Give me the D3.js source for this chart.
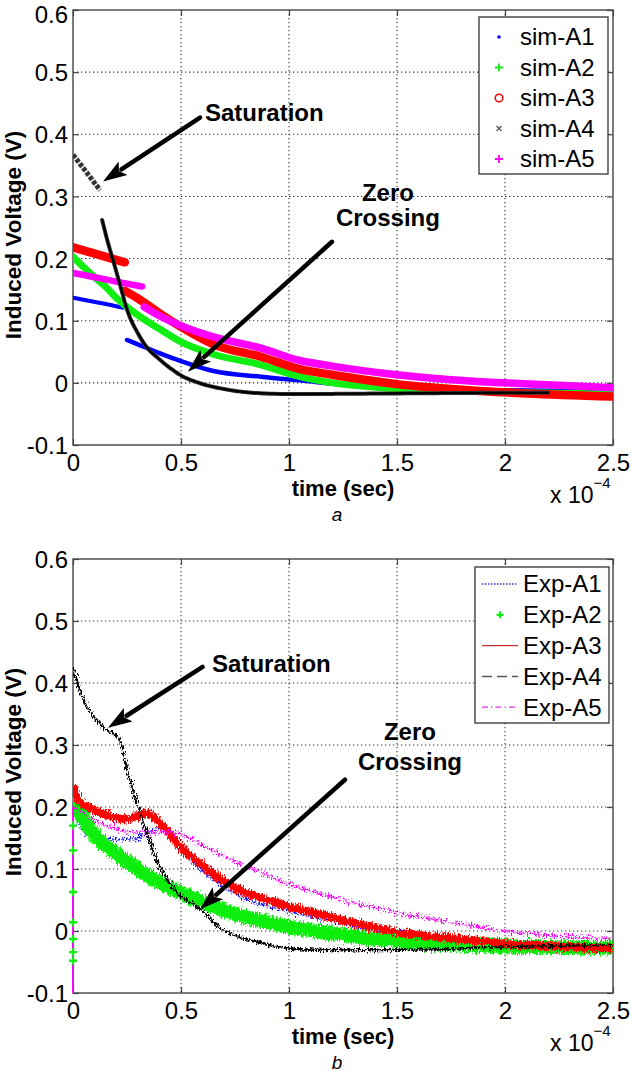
<!DOCTYPE html>
<html><head><meta charset="utf-8">
<script src="https://cdn.jsdelivr.net/npm/d3@7/dist/d3.min.js"></script>
<style>
body{margin:0;background:#fff}
svg{display:block}
text{font-family:"Liberation Sans",Arial,Helvetica,sans-serif;fill:#000}
</style>
</head><body>
<svg id="chart" width="633" height="1073"></svg>
<script>
// ---------------- DATA (time in units of 1e-4 s, voltage in V) ----------------
const xTickValues = [0, 0.5, 1, 1.5, 2, 2.5];
const yTickValues = [-0.1, 0, 0.1, 0.2, 0.3, 0.4, 0.5, 0.6];
const xTickLabels = ["0", "0.5", "1", "1.5", "2", "2.5"];
const yTickLabels = ["-0.1", "0", "0.1", "0.2", "0.3", "0.4", "0.5", "0.6"];

// Panel a: simulated (each series drawn as dense marker bands, with a jump)
const simA1_seg1 = [[0,0.137],[0.06,0.133],[0.12,0.129],[0.18,0.125],[0.23,0.121]];
const simA1_seg2 = [[0.25,0.069],[0.3,0.062],[0.4,0.048],[0.5,0.035],[0.65,0.019],[0.87,0.01],[1.05,0.004],[1.3,-0.004],[1.6,-0.009],[2.0,-0.012],[2.5,-0.014]];
const simA2 = [[0,0.203],[0.05,0.186],[0.1,0.17],[0.15,0.155],[0.2,0.137],[0.25,0.122],[0.3,0.109],[0.4,0.087],[0.5,0.066],[0.65,0.046],[0.87,0.029],[1.05,0.01],[1.2,0.0],[1.4,-0.007],[1.7,-0.012],[2.1,-0.016],[2.5,-0.018]];
const simA3_seg1 = [[0,0.218],[0.08,0.21],[0.16,0.202],[0.24,0.194]];
const simA3_seg2 = [[0.24,0.148],[0.3,0.136],[0.4,0.112],[0.5,0.09],[0.65,0.062],[0.87,0.042],[1.05,0.022],[1.2,0.013],[1.5,-0.002],[1.8,-0.011],[2.1,-0.017],[2.5,-0.022]];
const simA4_seg1 = [[0,0.367],[0.06,0.34],[0.125,0.31]];
const simA4_seg2 = [[0.135,0.262],[0.16,0.228],[0.185,0.198],[0.22,0.155],[0.25,0.118],[0.3,0.08],[0.34,0.058],[0.4,0.038],[0.5,0.012],[0.6,-0.002],[0.7,-0.01],[0.83,-0.016],[1.0,-0.018],[1.5,-0.017],[2.0,-0.016],[2.2,-0.016]];
const simA5_seg1 = [[0,0.177],[0.1,0.17],[0.2,0.163],[0.32,0.155]];
const simA5_seg2 = [[0.33,0.122],[0.4,0.108],[0.5,0.092],[0.65,0.074],[0.87,0.056],[1.05,0.036],[1.2,0.027],[1.5,0.013],[1.75,0.005],[2.0,0.0],[2.25,-0.004],[2.5,-0.008]];

// Panel b: experimental (noisy measurements)
const expA1 = [[0,0.2],[0.02,0.18],[0.05,0.16],[0.1,0.15],[0.2,0.148],[0.28,0.148],[0.37,0.162],[0.42,0.165],[0.5,0.135],[0.59,0.1],[0.7,0.072],[0.8,0.052],[0.9,0.04],[1.02,0.03],[1.2,0.016],[1.5,-0.003],[2.0,-0.02],[2.5,-0.026]];
const expA2 = [[0,0.21],[0.05,0.18],[0.1,0.155],[0.2,0.125],[0.3,0.1],[0.4,0.078],[0.5,0.062],[0.6,0.047],[0.71,0.032],[0.85,0.018],[1.02,0.006],[1.2,-0.004],[1.5,-0.016],[1.8,-0.022],[2.0,-0.025],[2.5,-0.027]];
const expA2_start = [[0,0.17],[0,0.13],[0,0.063],[0,0.014],[0,-0.013],[0,-0.034],[0,-0.048]];
const expA3 = [[0,0.235],[0.03,0.21],[0.09,0.196],[0.18,0.185],[0.25,0.18],[0.3,0.186],[0.34,0.19],[0.4,0.175],[0.5,0.135],[0.63,0.097],[0.76,0.068],[0.9,0.05],[1.02,0.038],[1.2,0.022],[1.5,-0.002],[1.8,-0.013],[2.0,-0.02],[2.5,-0.028]];
const expA4 = [[0,0.426],[0.03,0.39],[0.06,0.365],[0.1,0.345],[0.15,0.325],[0.2,0.316],[0.22,0.305],[0.24,0.277],[0.25,0.262],[0.32,0.18],[0.4,0.105],[0.48,0.063],[0.59,0.035],[0.68,0.005],[0.8,-0.013],[0.9,-0.022],[1.02,-0.029],[1.3,-0.031],[1.6,-0.03],[2.0,-0.026],[2.5,-0.022]];
const expA5 = [[0,0.2],[0.05,0.19],[0.09,0.18],[0.18,0.168],[0.25,0.16],[0.37,0.158],[0.45,0.16],[0.55,0.148],[0.63,0.132],[0.8,0.105],[1.02,0.073],[1.2,0.055],[1.5,0.03],[1.75,0.014],[2.0,0.0],[2.25,-0.008],[2.5,-0.013]];
const expA5_start = [[0,-0.1],[0,0.2]];

const simNames = ["sim-A1","sim-A2","sim-A3","sim-A4","sim-A5"];
const expNames = ["Exp-A1","Exp-A2","Exp-A3","Exp-A4","Exp-A5"];
const seriesColors = ["#0000ff","#11ee11","#ff0000","#000000","#ff00ff"];

// annotations (data coords)
const annA = {sat:{text:[0.611,0.435], from:[0.588,0.427], to:[0.139,0.324]},
              zero:{text:[1.458,0.306,0.266], from:[1.199,0.227], to:[0.532,0.018]}};
const annB = {sat:{text:[0.644,0.432], from:[0.60,0.426], to:[0.162,0.328]},
              zero:{text:[1.56,0.322,0.273], from:[1.259,0.244], to:[0.588,0.035]}};

// ---------------- DRAW ----------------
const svg = d3.select("#chart");
svg.append("rect").attr("width",633).attr("height",1073).attr("fill","#fff");
const defs = svg.append("defs");
function noiseFilter(id, freq, scale, seed){
  const f = defs.append("filter").attr("id",id).attr("filterUnits","userSpaceOnUse")
    .attr("x",0).attr("y",0).attr("width",633).attr("height",1073);
  f.append("feTurbulence").attr("type","fractalNoise").attr("baseFrequency",freq)
    .attr("numOctaves",2).attr("seed",seed).attr("result","t");
  f.append("feDisplacementMap").attr("in","SourceGraphic").attr("in2","t")
    .attr("scale",scale).attr("xChannelSelector","R").attr("yChannelSelector","G");
}
noiseFilter("nz1","1.3 0.25",11,2);
noiseFilter("nz2","1.3 0.25",10,5);
noiseFilter("nz3","1.3 0.25",9,7);
noiseFilter("nz4","1.3 0.3",8,11);
noiseFilter("nz5","1.3 0.25",12,13);

const L = 73, R = 613;
const x = d3.scaleLinear().domain([0,2.5]).range([L,R]);

function makePanel(top, bottom, id){
  const y = d3.scaleLinear().domain([-0.1,0.6]).range([bottom,top]);
  const g = svg.append("g");
  defs.append("clipPath").attr("id","clip"+id).append("rect")
    .attr("x",L).attr("y",top).attr("width",R-L).attr("height",bottom-top);
  const grid = g.append("g").attr("stroke","#333").attr("stroke-width",1.1).attr("stroke-dasharray","1.3 2.7");
  xTickValues.slice(1,-1).forEach(v=>grid.append("line").attr("x1",x(v)).attr("x2",x(v)).attr("y1",top).attr("y2",bottom));
  yTickValues.slice(1,-1).forEach(v=>grid.append("line").attr("y1",y(v)).attr("y2",y(v)).attr("x1",L).attr("x2",R));
  const ax = g.append("g").attr("transform",`translate(0,${bottom})`)
    .call(d3.axisBottom(x).tickValues(xTickValues).tickFormat((d,i)=>xTickLabels[i]).tickSizeInner(-6).tickSizeOuter(0).tickPadding(9));
  const ay = g.append("g").attr("transform",`translate(${L},0)`)
    .call(d3.axisLeft(y).tickValues(yTickValues).tickFormat((d,i)=>yTickLabels[i]).tickSizeInner(-6).tickSizeOuter(0).tickPadding(5));
  const axT = g.append("g").attr("transform",`translate(0,${top})`)
    .call(d3.axisTop(x).tickValues(xTickValues).tickFormat("").tickSizeInner(-6).tickSizeOuter(0));
  const ayR = g.append("g").attr("transform",`translate(${R},0)`)
    .call(d3.axisRight(y).tickValues(yTickValues).tickFormat("").tickSizeInner(-6).tickSizeOuter(0));
  [ax,ay,axT,ayR].forEach(a=>{a.select(".domain").remove(); a.selectAll("line").attr("stroke","#444").attr("stroke-width",1.2);});
  ax.selectAll("text").attr("font-size",24).attr("font-family","Liberation Sans, Arial, sans-serif").attr("fill","#000");
  ay.selectAll("text").attr("font-size",24).attr("font-family","Liberation Sans, Arial, sans-serif").attr("fill","#000")
    .attr("dy",d=>(top<20 && d===0.6) ? "0.5em" : "0.36em");
  g.append("rect").attr("x",L).attr("y",top).attr("width",R-L).attr("height",bottom-top)
    .attr("fill","none").attr("stroke","#444").attr("stroke-width",1.4);
  const plot = g.append("g").attr("clip-path",`url(#clip${id})`);
  const over = g.append("g");
  return {y, g, plot, over, top, bottom};
}

function arrow(g, from, to, y){
  const x1=x(from[0]), y1=y(from[1]), x2=x(to[0]), y2=y(to[1]);
  const dx=x2-x1, dy=y2-y1, len=Math.hypot(dx,dy), ux=dx/len, uy=dy/len;
  const hl=24, hw=8;
  const bx=x2-ux*hl, by=y2-uy*hl;
  g.append("line").attr("x1",x1).attr("y1",y1).attr("x2",bx+ux*2).attr("y2",by+uy*2)
    .attr("stroke","#000").attr("stroke-width",4.5).attr("stroke-linecap","round");
  g.append("polygon").attr("points",[[x2,y2],[bx-uy*hw,by+ux*hw],[bx+ux*5,by+uy*5],[bx+uy*hw,by-ux*hw]].map(p=>p.join(",")).join(" "))
    .attr("fill","#000");
}
function annotations(g, ann, y){
  g.append("text").attr("x",x(ann.sat.text[0])).attr("y",y(ann.sat.text[1])).attr("dy","0.35em")
    .attr("font-size",24).attr("font-weight","bold").text("Saturation");
  g.append("text").attr("x",x(ann.zero.text[0])).attr("y",y(ann.zero.text[1])).attr("dy","0.35em")
    .attr("text-anchor","middle").attr("font-size",24).attr("font-weight","bold").text("Zero");
  g.append("text").attr("x",x(ann.zero.text[0])).attr("y",y(ann.zero.text[2])).attr("dy","0.35em")
    .attr("text-anchor","middle").attr("font-size",24).attr("font-weight","bold").text("Crossing");
  arrow(g, ann.sat.from, ann.sat.to, y);
  arrow(g, ann.zero.from, ann.zero.to, y);
}
function labels(p, letter, yTitleCenter){
  const b = p.bottom;
  svg.append("text").attr("x",(L+R)/2).attr("y",b+51).attr("text-anchor","middle")
    .attr("font-size",22).attr("font-weight","bold").text("time (sec)");
  const t = svg.append("text").attr("x",550).attr("y",b+58).attr("font-size",23);
  t.append("tspan").text("x 10");
  t.append("tspan").attr("dy",-15).attr("font-size",15).text("−4");
  svg.append("text").attr("transform",`translate(21,${yTitleCenter}) rotate(-90)`).attr("text-anchor","middle")
    .attr("font-size",22.5).attr("font-weight","bold").text("Induced Voltage (V)");
  svg.append("text").attr("x",337).attr("y",b+76).attr("text-anchor","middle")
    .attr("font-size",19).attr("font-style","italic").text(letter);
}

// ---------- Panel a ----------
const pa = makePanel(10, 445, "a");
const la = d3.line().x(d=>x(d[0])).y(d=>pa.y(d[1])).curve(d3.curveMonotoneX);
function band(plot, line, data, color, w, extra){
  const p = plot.append("path").attr("d",line(data)).attr("fill","none").attr("stroke",color)
    .attr("stroke-width",w).attr("stroke-linecap","round").attr("stroke-linejoin","round");
  if(extra) extra(p);
  return p;
}
band(pa.plot, la, simA1_seg1, seriesColors[0], 4);
band(pa.plot, la, simA1_seg2, seriesColors[0], 4.5);
band(pa.plot, la, simA2, seriesColors[1], 7);
band(pa.plot, la, simA3_seg1, seriesColors[2], 8.5);
band(pa.plot, la, simA3_seg2, seriesColors[2], 8.5);
band(pa.plot, la, simA5_seg1, seriesColors[4], 6.5);
band(pa.plot, la, simA5_seg2, seriesColors[4], 7.5);
band(pa.plot, la, simA4_seg1, "#333", 5, p=>p.attr("stroke-dasharray","4 1.5").attr("stroke-linecap","butt"));
band(pa.plot, la, simA4_seg2, "#333", 4, p=>p.attr("stroke-dasharray","5 1"));
band(pa.plot, la, simA4_seg2, "#000", 2.2);
annotations(pa.g, annA, pa.y);
const lgA = pa.g.append("g");
lgA.append("rect").attr("x",479).attr("y",17).attr("width",129).attr("height",157).attr("fill","#fff").attr("stroke","#333").attr("stroke-width",1.3);
simNames.forEach((n,i)=>{
  const cy = 37 + i*30.5, mx = 499;
  lgA.append("text").attr("x",520).attr("y",cy).attr("dy","0.35em").attr("font-size",24).text(n);
  const c = seriesColors[i];
  if(i===0) lgA.append("circle").attr("cx",mx).attr("cy",cy).attr("r",1.8).attr("fill",c);
  if(i===1||i===4){ const s=4; lgA.append("path").attr("d",`M${mx-s},${cy}H${mx+s}M${mx},${cy-s}V${cy+s}`).attr("stroke",c).attr("stroke-width",1.8);}
  if(i===2) lgA.append("circle").attr("cx",mx).attr("cy",cy).attr("r",3.8).attr("fill","none").attr("stroke",c).attr("stroke-width",1.5);
  if(i===3){ const s=2.5; lgA.append("path").attr("d",`M${mx-s},${cy-s}L${mx+s},${cy+s}M${mx-s},${cy+s}L${mx+s},${cy-s}`).attr("stroke","#555").attr("stroke-width",1.2);}
});
labels(pa, "a", 235);

// ---------- Panel b ----------
const pb = makePanel(559, 993, "b");
const lb = d3.line().x(d=>x(d[0])).y(d=>pb.y(d[1])).curve(d3.curveMonotoneX);
const lbStraight = d3.line().x(d=>x(d[0])).y(d=>pb.y(d[1]));
pb.over.append("path").attr("d",lbStraight(expA5_start)).attr("stroke","#ff00ff").attr("stroke-width",1.8).attr("fill","none");
pb.plot.append("path").attr("d",lb(expA1)).attr("fill","none").attr("stroke","#0000ff").attr("stroke-width",2.6)
  .attr("stroke-dasharray","1.5 0.8").attr("filter","url(#nz1)");
pb.plot.append("path").attr("d",lb(expA2)).attr("fill","none").attr("stroke",seriesColors[1]).attr("stroke-width",14)
  .attr("stroke-linecap","round").attr("filter","url(#nz2)");
pb.over.selectAll(".g0").data(expA2_start).join("path")
  .attr("d",d=>{const cx=x(d[0]),cy=pb.y(d[1]),s=4;return `M${cx-s},${cy}H${cx+s}M${cx},${cy-s}V${cy+s}`;})
  .attr("stroke",seriesColors[1]).attr("stroke-width",2.4);
pb.plot.append("path").attr("d",lb(expA3)).attr("fill","none").attr("stroke","#ff0000").attr("stroke-width",8)
  .attr("filter","url(#nz3)");
pb.plot.append("path").attr("d",lb(expA5)).attr("fill","none").attr("stroke","#ff00ff").attr("stroke-width",2.4)
  .attr("stroke-dasharray","5 1 1.5 1").attr("filter","url(#nz5)");
pb.plot.append("path").attr("d",lb(expA4)).attr("fill","none").attr("stroke","#000").attr("stroke-width",2.4)
  .attr("filter","url(#nz4)");
annotations(pb.g, annB, pb.y);
const lgB = pb.g.append("g");
lgB.append("rect").attr("x",475).attr("y",567).attr("width",134).attr("height",156).attr("fill","#fff").attr("stroke","#333").attr("stroke-width",1.3);
expNames.forEach((n,i)=>{
  const cy = 584 + i*30.8;
  lgB.append("text").attr("x",523).attr("y",cy).attr("dy","0.35em").attr("font-size",24).text(n);
  if(i===1){ const mx=500,s=3.5; lgB.append("path").attr("d",`M${mx-s},${cy}H${mx+s}M${mx},${cy-s}V${cy+s}`).attr("stroke",seriesColors[1]).attr("stroke-width",2.2); return; }
  const ln = lgB.append("line").attr("x1",482).attr("x2",518).attr("y1",cy).attr("y2",cy).attr("stroke-width",1.3);
  if(i===0) ln.attr("stroke","#3333cc").attr("stroke-dasharray","1.5 1.5");
  if(i===2) ln.attr("stroke","#cc3333");
  if(i===3) ln.attr("stroke","#555").attr("stroke-dasharray","10 5").attr("stroke-width",1.5);
  if(i===4) ln.attr("stroke","#dd33dd").attr("stroke-dasharray","6 3 1.5 3");
});
labels(pb, "b", 772);
</script>
</body></html>
